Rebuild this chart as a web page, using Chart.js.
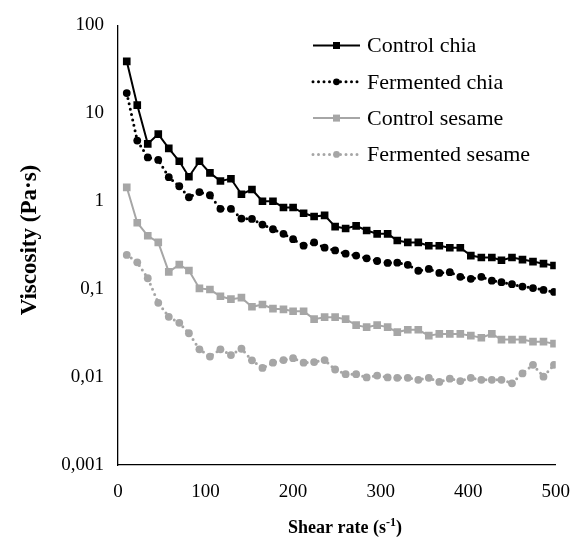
<!DOCTYPE html>
<html>
<head>
<meta charset="utf-8">
<title>Viscosity vs shear rate</title>
<script src="https://cdn.jsdelivr.net/npm/chart.js"></script>
<style>
  body { margin: 0; background: #fff; }
</style>
</head>
<body>
<canvas id="viscChart" width="586" height="546"></canvas>
<script>
// shear rate (1/s), one value per measured point
const shearRate = [10, 22, 34, 46, 58, 70, 81, 93, 105, 117, 129, 141, 153, 165, 177, 189, 200, 212, 224, 236, 248,
                   260, 272, 284, 296, 308, 319, 331, 343, 355, 367, 379, 391, 403, 415, 427, 438, 450, 462, 474, 486, 498];

// viscosity (Pa·s)
const controlChia = [39, 12.4, 4.5, 5.8, 4.0, 2.85, 1.9, 2.85, 2.1, 1.7, 1.8, 1.2, 1.36, 1.0, 1.0, 0.85, 0.85, 0.73, 0.67, 0.69, 0.515,
                     0.49, 0.525, 0.465, 0.426, 0.426, 0.358, 0.34, 0.34, 0.312, 0.312, 0.296, 0.296, 0.241, 0.229, 0.229, 0.213, 0.229, 0.217, 0.206, 0.195, 0.186];
const fermentedChia = [17, 4.9, 3.15, 2.95, 1.88, 1.48, 1.11, 1.27, 1.17, 0.82, 0.82, 0.635, 0.63, 0.543, 0.48, 0.426, 0.37, 0.312, 0.34, 0.296, 0.276,
                       0.253, 0.241, 0.224, 0.209, 0.199, 0.2, 0.189, 0.162, 0.17, 0.153, 0.156, 0.138, 0.131, 0.138, 0.125, 0.12, 0.114, 0.107, 0.103, 0.098, 0.093];
const controlSesame = [1.44, 0.57, 0.405, 0.34, 0.157, 0.19, 0.163, 0.102, 0.099, 0.083, 0.077, 0.08, 0.063, 0.067, 0.06, 0.059, 0.056, 0.056, 0.0456, 0.048, 0.048,
                       0.0456, 0.039, 0.037, 0.039, 0.037, 0.0325, 0.0345, 0.0345, 0.0296, 0.031, 0.031, 0.031, 0.0296, 0.028, 0.031, 0.0267, 0.0267, 0.0267, 0.0253, 0.0253, 0.024];
const fermentedSesame = [0.245, 0.202, 0.133, 0.07, 0.0484, 0.0414, 0.0315, 0.0207, 0.0171, 0.0207, 0.0178, 0.021, 0.0155, 0.0127, 0.0146, 0.0156, 0.0164, 0.0146, 0.0148, 0.0156, 0.0122,
                         0.0108, 0.0108, 0.0099, 0.0104, 0.0099, 0.0098, 0.0098, 0.0093, 0.0098, 0.0088, 0.0096, 0.009, 0.0098, 0.0093, 0.0093, 0.0093, 0.0085, 0.011, 0.0138, 0.0101, 0.0138];

const seriesNames = ['Control chia', 'Fermented chia', 'Control sesame', 'Fermented sesame'];
const yTickValues = [0.001, 0.01, 0.1, 1, 10, 100];
const yTickLabels = ['0,001', '0,01', '0,1', '1', '10', '100'];
const xTickValues = [0, 100, 200, 300, 400, 500];

const FONT = "'Liberation Serif', 'Times New Roman', serif";
const BLACK = '#000000';
const GRAY = '#a6a6a6';

function pairs(values) {
    return values.map((v, i) => ({ x: shearRate[i], y: v }));
}

function series(label, values, color, style, dotted) {
    return {
        label: label,
        data: pairs(values),
        borderColor: color,
        backgroundColor: color,
        borderWidth: dotted ? 3 : 2,
        borderDash: dotted ? [0, 5.5] : [],
        borderCapStyle: dotted ? 'round' : 'butt',
        pointStyle: style,
        pointRadius: style === 'rect' ? 5.4 : 3.9,
        pointBorderWidth: 0,
        tension: 0
    };
}

// legend inside the plot: line sample with the marker on it, then the name
const sampleLegend = {
    id: 'sampleLegend',
    afterDraw(chart) {
        const ctx = chart.ctx;
        chart.data.datasets.forEach((ds, i) => {
            const y = 45.5 + i * 36.3;
            ctx.save();
            ctx.strokeStyle = ds.borderColor;
            ctx.lineWidth = ds.borderWidth;
            ctx.lineCap = ds.borderCapStyle;
            ctx.setLineDash(ds.borderDash);
            ctx.beginPath();
            ctx.moveTo(313, y);
            ctx.lineTo(360, y);
            ctx.stroke();
            ctx.setLineDash([]);
            ctx.fillStyle = ds.backgroundColor;
            if (ds.pointStyle === 'rect') {
                ctx.fillRect(333, y - 3.5, 7, 7);
            } else {
                ctx.beginPath();
                ctx.arc(336.5, y, 3.4, 0, Math.PI * 2);
                ctx.fill();
            }
            ctx.fillStyle = BLACK;
            ctx.font = '22px ' + FONT;
            ctx.textBaseline = 'middle';
            ctx.textAlign = 'left';
            ctx.fillText(ds.label, 367, y + 1);
            ctx.restore();
        });
    }
};

// axis titles (the x title needs a superscript)
const axisTitles = {
    id: 'axisTitles',
    afterDraw(chart) {
        const ctx = chart.ctx;
        ctx.save();
        ctx.fillStyle = BLACK;
        ctx.textBaseline = 'alphabetic';

        const a = 'Shear rate (s';
        const b = ')';
        const sup = '-1';
        ctx.font = 'bold 12px ' + FONT;
        const supW = ctx.measureText(sup).width;
        ctx.font = 'bold 18px ' + FONT;
        const total = ctx.measureText(a).width + supW + ctx.measureText(b).width;
        let x = 345 - total / 2;
        const base = 533;
        ctx.textAlign = 'left';
        ctx.fillText(a, x, base);
        x += ctx.measureText(a).width;
        ctx.font = 'bold 12px ' + FONT;
        ctx.fillText(sup, x, base - 7);
        x += supW;
        ctx.font = 'bold 18px ' + FONT;
        ctx.fillText(b, x, base);

        ctx.translate(30, 240);
        ctx.rotate(-Math.PI / 2);
        ctx.font = 'bold 23px ' + FONT;
        ctx.textAlign = 'center';
        ctx.textBaseline = 'middle';
        ctx.fillText('Viscosity (Pa\u00b7s)', 0, 0);
        ctx.restore();
    }
};

const ctx = document.getElementById('viscChart').getContext('2d');
const chart = new Chart(ctx, {
    type: 'line',
    data: {
        datasets: [
            series(seriesNames[0], controlChia, BLACK, 'rect', false),
            series(seriesNames[1], fermentedChia, BLACK, 'circle', true),
            series(seriesNames[2], controlSesame, GRAY, 'rect', false),
            series(seriesNames[3], fermentedSesame, GRAY, 'circle', true)
        ]
    },
    options: {
        responsive: false,
        animation: false,
        layout: { padding: { left: 0, top: 22, right: 21, bottom: 0 } },
        plugins: {
            legend: { display: false },
            tooltip: { enabled: false }
        },
        scales: {
            x: {
                type: 'linear',
                min: 0,
                max: 500,
                grid: { display: false, drawTicks: false },
                border: { display: true, color: BLACK, width: 1.3 },
                afterBuildTicks: s => { s.ticks = xTickValues.map(v => ({ value: v })); },
                afterFit: s => { s.height = 81; },
                ticks: {
                    color: BLACK,
                    padding: 16,
                    maxRotation: 0,
                    font: { family: FONT, size: 19 }
                }
            },
            y: {
                type: 'logarithmic',
                min: 0.001,
                max: 100,
                grid: { display: false, drawTicks: false },
                border: { display: true, color: BLACK, width: 1.3 },
                afterBuildTicks: s => { s.ticks = yTickValues.map(v => ({ value: v })); },
                afterFit: s => { s.width = 118; },
                ticks: {
                    color: BLACK,
                    padding: 14,
                    autoSkip: false,
                    font: { family: FONT, size: 19 },
                    callback: (v) => yTickLabels[yTickValues.indexOf(v)]
                }
            }
        }
    },
    plugins: [sampleLegend, axisTitles]
});
</script>
</body>
</html>
